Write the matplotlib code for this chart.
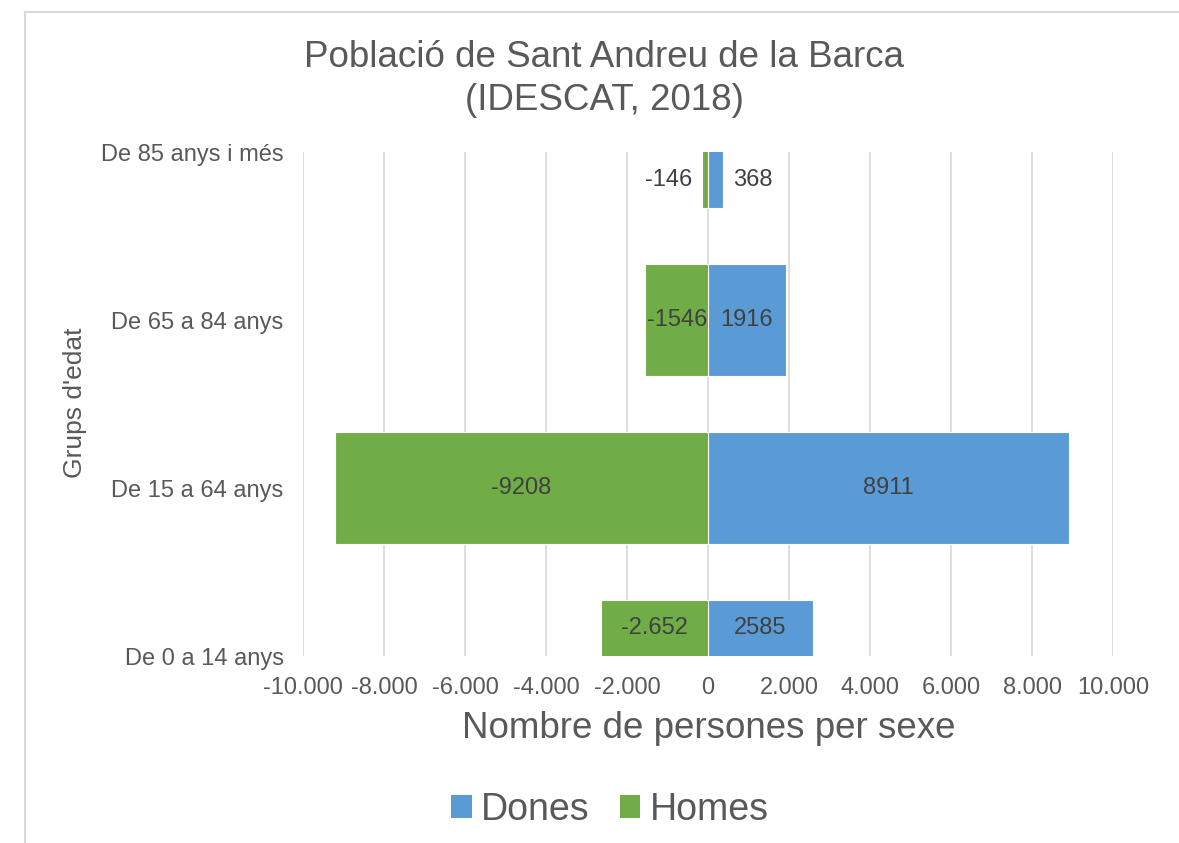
import matplotlib.pyplot as plt
from matplotlib.patches import Patch
from matplotlib.lines import Line2D
from matplotlib.ticker import FuncFormatter

plt.rcParams['font.family'] = ['Liberation Sans', 'DejaVu Sans']

grups = ["De 0 a 14 anys", "De 15 a 64 anys", "De 65 a 84 anys", "De 85 anys i més"]
dones = [2585, 8911, 1916, 368]
homes = [-2652, -9208, -1546, -146]
etiq_dones = ["2585", "8911", "1916", "368"]
etiq_homes = ["-2.652", "-9208", "-1546", "-146"]

blau = "#5B9BD5"
verd = "#70AD47"
gris = "#595959"
fosc = "#404040"

fig = plt.figure(figsize=(11.79, 8.43), dpi=100)
ax = fig.add_axes([303 / 1179, 1 - 656 / 843, 810 / 1179, 504 / 843])

y = list(range(len(grups)))
h = 0.67
ax.barh(y, dones, height=h, color=blau, edgecolor="white", linewidth=0.8, zorder=2)
ax.barh(y, homes, height=h, color=verd, edgecolor="white", linewidth=0.8, zorder=2)

ax.set_xlim(-10000, 10000)
ax.set_ylim(0, 3)
ax.set_xticks(range(-10000, 10001, 2000))
ax.xaxis.set_major_formatter(FuncFormatter(lambda v, p: f"{int(v):,}".replace(",", ".")))
ax.set_yticks(y)
ax.set_yticklabels(grups)
ax.tick_params(axis="x", length=0, pad=15, labelsize=17, labelcolor=gris)
ax.tick_params(axis="y", length=0, pad=14, labelsize=17, labelcolor=gris)
ax.grid(axis="x", color="#d9d9d9", linewidth=1.2, zorder=0)
ax.set_axisbelow(True)
for s in ax.spines.values():
    s.set_visible(False)

# etiquetes de valor
for i in y:
    yy = i
    if i == 0:
        yy = i + h / 4
    elif i == len(grups) - 1:
        yy = i - h / 4
    if abs(homes[i]) < 500:
        ax.annotate(etiq_homes[i], (homes[i], yy), xytext=(-7, 0), textcoords="offset points",
                    ha="right", va="center", fontsize=17, color=fosc)
        ax.annotate(etiq_dones[i], (dones[i], yy), xytext=(7, 0), textcoords="offset points",
                    ha="left", va="center", fontsize=17, color=fosc)
    else:
        ax.text(homes[i] / 2, yy, etiq_homes[i], ha="center", va="center", fontsize=17, color=fosc)
        ax.text(dones[i] / 2, yy, etiq_dones[i], ha="center", va="center", fontsize=17, color=fosc)

fig.text(604 / 1179, 1 - 79 / 843, "Població de Sant Andreu de la Barca\n(IDESCAT, 2018)",
         ha="center", va="center", fontsize=26.5, color=gris, linespacing=1.3)
fig.text(709 / 1179, 1 - 729 / 843, "Nombre de persones per sexe",
         ha="center", va="center", fontsize=26.5, color=gris)
fig.text(75 / 1179, 1 - 403 / 843, "Grups d'edat", rotation=90,
         ha="center", va="center", fontsize=19, color=gris)

handles = [Patch(facecolor=blau, label="Dones"), Patch(facecolor=verd, label="Homes")]
leg = fig.legend(handles=handles, loc="center", bbox_to_anchor=(610 / 1179, 1 - 810 / 843),
                 ncol=2, frameon=False, fontsize=27, handlelength=0.55, handleheight=0.55,
                 handletextpad=0.25, columnspacing=0.8)
for t in leg.get_texts():
    t.set_color(gris)

# vora de l'àrea del gràfic
fig.add_artist(Line2D([25 / 1179, 1], [1 - 12 / 843, 1 - 12 / 843], color="#d9d9d9", linewidth=1.5))
fig.add_artist(Line2D([25 / 1179, 25 / 1179], [0, 1 - 12 / 843], color="#d9d9d9", linewidth=1.5))

fig.savefig("out.png", dpi=100)
